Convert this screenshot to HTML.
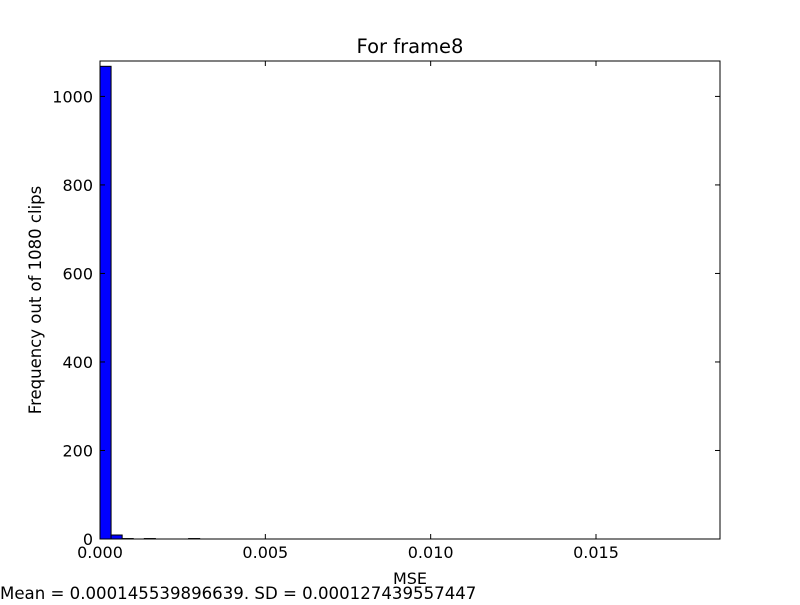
<!DOCTYPE html>
<html><head><meta charset="utf-8"><style>
body{margin:0;background:#fff;}
svg text{font-family:"DejaVu Sans","Liberation Sans",sans-serif;fill:#000;}
</style></head><body>
<svg id="c" width="800" height="600" xmlns="http://www.w3.org/2000/svg">
<rect width="800" height="600" fill="#fff"/>
<g id="bars"></g>
<rect x="100" y="61" width="620" height="478" fill="none" stroke="#000" stroke-width="1"/>
<g id="axes"></g>
<text x="410" y="53" font-size="19.5" text-anchor="middle">For frame8</text>
<text x="410" y="584" font-size="16" text-anchor="middle">MSE</text>
<text transform="translate(41,300) rotate(-90)" font-size="16.5" text-anchor="middle">Frequency out of 1080 clips</text>
<text x="0" y="599" font-size="16.6">Mean = 0.000145539896639. SD = 0.000127439557447</text>
</svg>
<script>
const binWidth = 0.000335;
const binStarts = [0, 0.000335, 0.00067, 0.001005, 0.00134, 0.002345, 0.00268];
const counts = [1068, 9, 1, 0, 1, 0, 1];
const xTicks = [0, 0.005, 0.010, 0.015];
const xTickLabels = ["0.000", "0.005", "0.010", "0.015"];
const yTicks = [0, 200, 400, 600, 800, 1000];
const X0=100,X1=720,Y0=539,Y1=61,xMax=0.01875,yMax=1080;
const xs=v=>X0+v/xMax*(X1-X0), ys=v=>Y0-v/yMax*(Y0-Y1);
const NS="http://www.w3.org/2000/svg";
const bars=document.getElementById('bars'), axes=document.getElementById('axes');
counts.forEach((c,i)=>{
  if(c<=0) return;
  const r=document.createElementNS(NS,'rect');
  const x=xs(binStarts[i]), w=xs(binStarts[i]+binWidth)-x;
  r.setAttribute('x',x);r.setAttribute('y',ys(c));r.setAttribute('width',w);r.setAttribute('height',Y0-ys(c));
  r.setAttribute('fill','#0000ff');r.setAttribute('stroke','#000');r.setAttribute('stroke-width','1');
  
  
  bars.appendChild(r);
});
function line(x1,y1,x2,y2){const l=document.createElementNS(NS,'line');l.setAttribute('x1',x1);l.setAttribute('y1',y1);l.setAttribute('x2',x2);l.setAttribute('y2',y2);l.setAttribute('stroke','#000');


axes.appendChild(l);}
function text(x,y,s,anchor){const t=document.createElementNS(NS,'text');t.setAttribute('x',x);t.setAttribute('y',y);t.setAttribute('font-size','16');t.setAttribute('text-anchor',anchor);t.textContent=s;


axes.appendChild(t);}
xTicks.forEach((v,i)=>{const x=xs(v);line(x,Y0,x,Y0-5);line(x,Y1,x,Y1+5);text(x,Y0+19,xTickLabels[i],'middle');});
yTicks.forEach(v=>{const y=ys(v);line(X0,y,X0+5,y);line(X1,y,X1-5,y);text(X0-7,y+6,String(v),'end');});
</script>
</body></html>
